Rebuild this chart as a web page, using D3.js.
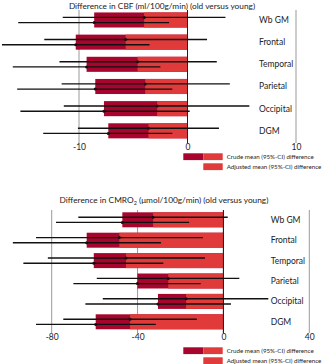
<!DOCTYPE html>
<html><head><meta charset="utf-8">
<script src="https://cdn.jsdelivr.net/npm/d3@7"></script>
<style>body{margin:0;background:#fff}svg{display:block}text{font-family:Lato,"Open Sans",sans-serif;fill:#222}</style>
</head><body>
<script>
const regions = ["Wb GM","Frontal","Temporal","Parietal","Occipital","DGM"];
// CBF (ml/100g/min)
const cbfCrude    = [-8.6,-10.3,-9.3,-8.5,-7.7,-7.3];
const cbfCrudeLo  = [-15.6,-17.1,-16.1,-15.7,-15.4,-13.3];
const cbfCrudeHi  = [-1.7,-3.5,-2.5,-1.4,0.2,-1.4];
const cbfAdj      = [-4.0,-5.7,-4.6,-3.9,-2.8,-3.6];
const cbfAdjLo    = [-11.5,-13.2,-11.8,-11.6,-11.4,-10.1];
const cbfAdjHi    = [3.5,1.8,2.7,3.9,5.7,2.9];
const cbfTicks    = [-10,0,10];
// CMRO2 (umol/100g/min)
const cmCrude     = [-47.1,-63.7,-60.4,-40.1,-30.5,-59.5];
const cmCrudeLo   = [-78.0,-98.1,-93.2,-69.9,-64.3,-87.3];
const cmCrudeHi   = [-16.0,-29.1,-28.0,-10.6,3.5,-31.5];
const cmAdj       = [-32.8,-48.5,-45.4,-25.7,-17.4,-43.5];
const cmAdjLo     = [-67.6,-87.3,-81.8,-59.0,-56.2,-74.6];
const cmAdjHi     = [2.0,-9.6,-8.6,7.4,20.9,-12.4];
const cmTicks     = [-80,-40,0,40];

const DARK = "#a8052e", LIGHT = "#e13a3b";
const svg = d3.select("body").append("svg").attr("width",325).attr("height",364);

function panel(cfg){
  const g = svg.append("g");
  const x = d3.scaleLinear().domain(cfg.domain).range(cfg.xr);
  const y = d3.scaleBand().domain(regions).range(cfg.yr).paddingInner(cfg.pad).paddingOuter(cfg.pad/2);
  const bw = y.bandwidth();
  const rows = regions.map((r,i)=>({r, c:cfg.crude[i], cl:cfg.crudeLo[i], ch:cfg.crudeHi[i], a:cfg.adj[i], al:cfg.adjLo[i], ah:cfg.adjHi[i]}));
  g.selectAll("line.grid").data(cfg.ticks).join("line")
    .attr("x1",d=>x(d)).attr("x2",d=>x(d))
    .attr("y1",cfg.gy[0]).attr("y2",cfg.gy[1])
    .attr("stroke",d=>d===0?"#222":"#999").attr("stroke-width",1);
  g.selectAll("rect.crude").data(rows).join("rect")
    .attr("x",d=>x(d.c)).attr("width",d=>x(0)-x(d.c))
    .attr("y",d=>y(d.r)).attr("height",bw).attr("fill",DARK);
  g.selectAll("rect.adj").data(rows).join("rect")
    .attr("x",d=>x(d.a)).attr("width",d=>x(0)-x(d.a))
    .attr("y",d=>y(d.r)).attr("height",bw).attr("fill",LIGHT);
  g.append("line").attr("x1",x(0)).attr("x2",x(0)).attr("y1",cfg.gy[0]).attr("y2",cfg.gy[1]).attr("stroke","#222");
  const off = 2.6;
  g.selectAll("line.ciA").data(rows).join("line")
    .attr("x1",d=>x(d.al)).attr("x2",d=>x(d.ah))
    .attr("y1",d=>y(d.r)+bw/2-off).attr("y2",d=>y(d.r)+bw/2-off)
    .attr("stroke","#111").attr("stroke-width",1.4);
  g.selectAll("line.ciC").data(rows).join("line")
    .attr("x1",d=>x(d.cl)).attr("x2",d=>x(d.ch))
    .attr("y1",d=>y(d.r)+bw/2+off).attr("y2",d=>y(d.r)+bw/2+off)
    .attr("stroke","#111").attr("stroke-width",1.4);
  g.selectAll("circle.pA").data(rows).join("circle")
    .attr("cx",d=>x(d.a)).attr("cy",d=>y(d.r)+bw/2-off).attr("r",1.5).attr("fill","#111");
  g.selectAll("circle.pC").data(rows).join("circle")
    .attr("cx",d=>x(d.c)).attr("cy",d=>y(d.r)+bw/2+off).attr("r",1.5).attr("fill","#111");
  g.selectAll("text.cat").data(rows).join("text")
    .attr("x",cfg.labX).attr("y",d=>y(d.r)+bw/2).attr("dy","0.35em")
    .attr("font-size",8.5).text(d=>d.r);
  const ax = d3.axisBottom(x).tickValues(cfg.ticks).tickSize(0).tickPadding(0).tickFormat(d=>String(d));
  const axg = g.append("g").attr("transform",`translate(0,${cfg.tickY})`).call(ax);
  axg.select(".domain").remove();
  axg.selectAll("text").attr("font-size",8.5).attr("font-family","Lato,sans-serif").attr("fill","#222").attr("dy","0.35em");
  const t = g.append("text").attr("x",cfg.titleX).attr("y",cfg.titleY).attr("text-anchor","middle").attr("font-size",8.3);
  cfg.title(t);
  const lg = g.append("g");
  const L = cfg.leg;
  lg.append("rect").attr("x",183.3).attr("y",L).attr("width",20).attr("height",6.8).attr("fill",DARK);
  lg.append("rect").attr("x",203.3).attr("y",L).attr("width",19.4).attr("height",6.8).attr("fill",LIGHT);
  lg.append("rect").attr("x",203.3).attr("y",L+10).attr("width",19.4).attr("height",6.8).attr("fill",LIGHT);
  lg.append("text").attr("x",226.7).attr("y",L+3.4).attr("dy","0.35em").attr("font-size",6.2).text("Crude mean (95%-CI) difference");
  lg.append("text").attr("x",226.7).attr("y",L+13.4).attr("dy","0.35em").attr("font-size",6.2).text("Adjusted mean (95%-CI) difference");
}

panel({domain:[-10,10], xr:[79,296], yr:[8.9,141.9], pad:0.32, gy:[10,143],
  crude:cbfCrude, crudeLo:cbfCrudeLo, crudeHi:cbfCrudeHi, adj:cbfAdj, adjLo:cbfAdjLo, adjHi:cbfAdjHi,
  ticks:cbfTicks, labX:259, tickY:147.5, titleX:162, titleY:8.5, leg:153.3,
  title:t=>t.text("Difference in CBF (ml/100g/min) (old versus young)")});

panel({domain:[-80,40], xr:[51.7,309.3], yr:[209.6,332], pad:0.265, gy:[210,333],
  crude:cmCrude, crudeLo:cmCrudeLo, crudeHi:cmCrudeHi, adj:cmAdj, adjLo:cmAdjLo, adjHi:cmAdjHi,
  ticks:cmTicks, labX:270.7, tickY:337, titleX:164, titleY:202.5, leg:347.3,
  title:t=>{t.append("tspan").text("Difference in CMRO");
            t.append("tspan").attr("font-size",5.5).attr("dy",2).text("2");
            t.append("tspan").attr("dy",-2).text(" (\u03bcmol/100g/min) (old versus young)");}});
</script>
</body></html>
